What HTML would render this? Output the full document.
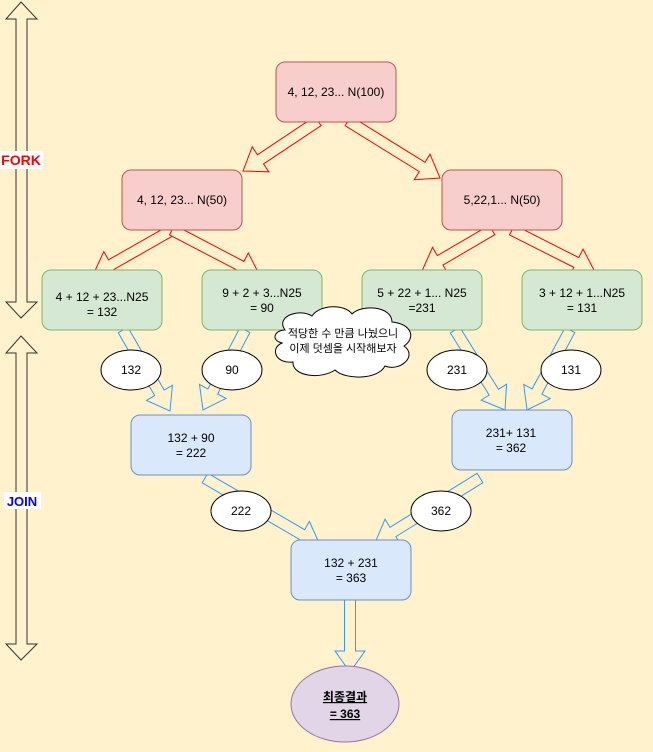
<!DOCTYPE html>
<html><head><meta charset="utf-8"><style>
html,body{margin:0;padding:0;background:#FFF2CC;}
svg{display:block;}
text{font-family:"Liberation Sans","Noto Sans CJK KR",sans-serif;font-size:12px;fill:#000;}
</style></head><body>
<svg id="s" width="653" height="752" viewBox="0 0 653 752" xmlns="http://www.w3.org/2000/svg">
<rect width="653" height="752" fill="#FFF2CC"/>
<g id="arrows"></g>
<!-- vertical double arrows -->
<polygon points="21,2 37,19 27,19 27,302 37,302 21,318 6,302 16,302 16,19 6,19" fill="#FFF2CC" stroke="#333" stroke-width="1"/>
<polygon points="21,336 37,353 27,353 27,644 37,644 21,660 6,644 16,644 16,353 6,353" fill="#FFF2CC" stroke="#333" stroke-width="1"/>
<rect x="0" y="151" width="43" height="18" fill="#fff"/>
<text x="21" y="165" text-anchor="middle" style="font-size:14px;font-weight:bold;fill:#FF0000">FORK</text>
<rect x="4" y="492" width="37" height="17" fill="#fff"/>
<text x="22" y="506" text-anchor="middle" style="font-size:13px;font-weight:bold;fill:#0000FF">JOIN</text>
<g stroke-width="1">
<rect x="276" y="62" width="120" height="60" rx="9" fill="#F8CECC" stroke="#B85450"/>
<rect x="122" y="170" width="120" height="60" rx="9" fill="#F8CECC" stroke="#B85450"/>
<rect x="442" y="170" width="120" height="60" rx="9" fill="#F8CECC" stroke="#B85450"/>
<rect x="42" y="270" width="120" height="60" rx="9" fill="#D5E8D4" stroke="#82B366"/>
<rect x="202" y="270" width="120" height="60" rx="9" fill="#D5E8D4" stroke="#82B366"/>
<rect x="362" y="270" width="120" height="60" rx="9" fill="#D5E8D4" stroke="#82B366"/>
<rect x="522" y="270" width="120" height="60" rx="9" fill="#D5E8D4" stroke="#82B366"/>
<rect x="131" y="415" width="120" height="60" rx="9" fill="#DAE8FC" stroke="#6C8EBF"/>
<rect x="452" y="410" width="120" height="60" rx="9" fill="#DAE8FC" stroke="#6C8EBF"/>
<rect x="291" y="540" width="120" height="60" rx="9" fill="#DAE8FC" stroke="#6C8EBF"/>
<ellipse cx="345" cy="704" rx="54" ry="38" fill="#E1D5E7" stroke="#9673A6"/>
</g>
<g fill="#fff" stroke="#000" stroke-width="1">
<ellipse cx="131" cy="370" rx="30" ry="20"/>
<ellipse cx="232" cy="370" rx="30" ry="20"/>
<ellipse cx="457" cy="370" rx="30" ry="20"/>
<ellipse cx="571" cy="370" rx="30" ry="20"/>
<ellipse cx="241" cy="511" rx="30" ry="20"/>
<ellipse cx="441" cy="511" rx="30" ry="20"/>
<path d="M285,330 C275,316 300,308 312,316 C320,304 345,304 352,314 C362,304 392,306 392,322 C412,324 416,338 404,346 C418,356 400,372 385,366 C378,380 345,380 335,370 C320,380 292,376 293,362 C275,364 270,348 282,343 C270,340 275,330 285,330 Z"/>
</g>
<g text-anchor="middle">
<text x="336" y="96">4, 12, 23... N(100)</text>
<text x="182" y="204">4, 12, 23... N(50)</text>
<text x="502" y="204">5,22,1... N(50)</text>
<text x="102" y="301">4 + 12 + 23...N25</text><text x="102" y="316">= 132</text>
<text x="262" y="297">9 + 2 + 3...N25</text><text x="262" y="312">= 90</text>
<text x="422" y="297">5 + 22 + 1... N25</text><text x="422" y="312">=231</text>
<text x="582" y="297">3 + 12 + 1...N25</text><text x="582" y="312">= 131</text>
<text x="191" y="442">132 + 90</text><text x="191" y="457">= 222</text>
<text x="511" y="437">231+ 131</text><text x="511" y="452">= 362</text>
<text x="351" y="567">132 + 231</text><text x="351" y="582">= 363</text>
<text x="131" y="374">132</text>
<text x="232" y="374">90</text>
<text x="457" y="374">231</text>
<text x="571" y="374">131</text>
<text x="241" y="515">222</text>
<text x="441" y="515">362</text>
<text x="343" y="337" style="font-size:11px">적당한 수 만큼 나눴으니</text>
<text x="343" y="352" style="font-size:11px">이제 덧셈을 시작해보자</text>
<text x="345" y="701" style="font-weight:bold;text-decoration:underline">최종결과</text>
<text x="345" y="718" style="font-weight:bold;text-decoration:underline">= 363</text>
</g>
</svg>
<script>
function arrow(x1,y1,x2,y2,col,g){
 var dx=x2-x1,dy=y2-y1,L=Math.sqrt(dx*dx+dy*dy),ux=dx/L,uy=dy/L,px=-uy,py=ux;
 var sw=5.5,hw=15,hl=21,bx=x2-ux*hl,by=y2-uy*hl;
 var p=[[x1+px*sw,y1+py*sw],[bx+px*sw,by+py*sw],[bx+px*hw,by+py*hw],[x2,y2],[bx-px*hw,by-py*hw],[bx-px*sw,by-py*sw],[x1-px*sw,y1-py*sw]];
 var el=document.createElementNS("http://www.w3.org/2000/svg","polygon");
 el.setAttribute("points",p.map(function(q){return q[0].toFixed(1)+","+q[1].toFixed(1)}).join(" "));
 el.setAttribute("fill","#FFF2CC");el.setAttribute("stroke",col);el.setAttribute("stroke-width","1");
 document.getElementById(g).appendChild(el);
}
var R="#FF0000",B="#3399FF";
arrow(318,121,243,171,R,"arrows");
arrow(348,121,440,178,R,"arrows");
arrow(172,230,93,275,R,"arrows");
arrow(172,230,260,276,R,"arrows");
arrow(492,230,422,271,R,"arrows");
arrow(512,230,595,272,R,"arrows");
arrow(123,330,170,411,B,"arrows");
arrow(245,330,203,410,B,"arrows");
arrow(455,330,505,410,B,"arrows");
arrow(570,330,527,410,B,"arrows");
arrow(205,478,320,545,B,"arrows");
arrow(480,478,375,543,B,"arrows");
arrow(350,600,350,672,B,"arrows");
</script>
</body></html>
